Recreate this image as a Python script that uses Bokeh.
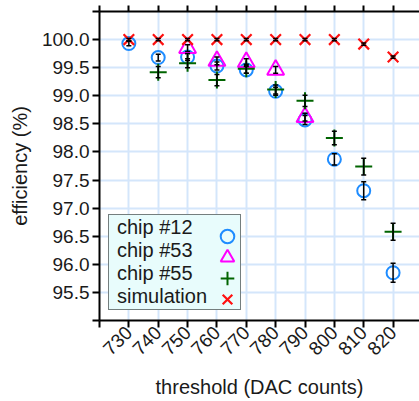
from bokeh.plotting import figure
from bokeh.models import (ColumnDataSource, Range1d, FixedTicker, LinearAxis, Whisker, TeeHead,
                          Legend, LegendItem, PrintfTickFormatter, CustomJSTickFormatter)
from bokeh.embed import file_html
from bokeh.resources import INLINE
import numpy as np

# ---------------- data ----------------
thresholds = [730, 740, 750, 760, 770, 780, 790, 800, 810, 820]

chip12_x = [730, 740, 750, 760, 770, 780, 790, 800, 810, 820]
chip12_y = [99.93, 99.68, 99.69, 99.53, 99.46, 99.08, 98.57, 97.87, 97.31, 95.85]
chip12_err = [0.04, 0.06, 0.06, 0.07, 0.06, 0.07, 0.08, 0.10, 0.16, 0.17]

chip53_x = [750, 760, 770, 780, 790]
chip53_y = [99.85, 99.62, 99.60, 99.46, 98.62]
chip53_err = [0.06, 0.07, 0.06, 0.06, 0.07]

chip55_x = [740, 750, 760, 770, 780, 790, 800, 810, 820]
chip55_y = [99.42, 99.58, 99.28, 99.48, 99.11, 98.91, 98.25, 97.74, 96.58]
chip55_err = [0.10, 0.08, 0.10, 0.08, 0.08, 0.10, 0.12, 0.15, 0.15]

sim_x = [730, 740, 750, 760, 770, 780, 790, 800, 810, 820]
sim_y = [100.0, 100.0, 100.0, 100.0, 100.0, 100.0, 100.0, 100.0, 99.92, 99.69]
sim_err = [0.02, 0.02, 0.02, 0.02, 0.02, 0.02, 0.02, 0.02, 0.02, 0.02]

x_ticks = [720, 730, 740, 750, 760, 770, 780, 790, 800, 810, 820, 830]
y_ticks = [95.0, 95.5, 96.0, 96.5, 97.0, 97.5, 98.0, 98.5, 99.0, 99.5, 100.0, 100.5]
series_names = ["chip #12", "chip #53", "chip #55", "simulation"]

x_title = "threshold (DAC counts)"
y_title = "efficiency (%)"

# ---------------- style ----------------
FONT = "Liberation Sans"
TXT = "#1a1a1a"
GRID = "#d4e6fb"
C12 = "#1e8cff"
C53 = "#ff00ff"
C55 = "#006400"
CSIM = "#ff1010"

p = figure(width=419, height=401,
           x_range=Range1d(720, 829), y_range=Range1d(95.0, 100.5),
           output_backend="svg", toolbar_location=None,
           min_border_left=99, min_border_right=0, min_border_top=11, min_border_bottom=78)
p.outline_line_color = None
p.background_fill_color = "white"
p.border_fill_color = "white"

# axes
xa = p.xaxis[0]
xa.ticker = FixedTicker(ticks=x_ticks)
xa.major_label_overrides = {720: ""}
xa.major_label_orientation = np.pi / 4
ya = p.yaxis[0]
ya.ticker = FixedTicker(ticks=y_ticks)
ya.formatter = PrintfTickFormatter(format="%.1f")
ya.major_label_overrides = {95: "", 100.5: ""}

for ax in (xa, ya):
    ax.axis_line_width = 2
    ax.axis_line_color = "black"
    ax.major_tick_line_width = 2
    ax.major_tick_line_color = "black"
    ax.major_tick_in = 0
    ax.major_tick_out = 7
    ax.minor_tick_line_color = None
    ax.major_label_text_font = FONT
    ax.major_label_text_font_size = "19px"
    ax.major_label_text_color = TXT
    ax.axis_label_text_font = FONT
    ax.axis_label_text_font_size = "20px"
    ax.axis_label_text_font_style = "normal"
    ax.axis_label_text_color = TXT

xa.axis_label = x_title
ya.axis_label = y_title
xa.major_label_standoff = 2
xa.axis_label_standoff = 12
ya.major_label_standoff = 3
ya.axis_label_standoff = 8

top = LinearAxis(ticker=FixedTicker(ticks=x_ticks),
                 formatter=CustomJSTickFormatter(code="return ''"))
top.axis_line_width = 2
top.axis_line_color = "black"
top.major_tick_line_width = 2
top.major_tick_line_color = "black"
top.major_tick_in = 0
top.major_tick_out = 6
top.minor_tick_line_color = None
top.major_label_standoff = 0
top.major_label_text_font_size = "1px"
p.add_layout(top, "above")

# grid
p.xgrid.ticker = FixedTicker(ticks=x_ticks)
p.ygrid.ticker = FixedTicker(ticks=y_ticks)
for g in (p.xgrid[0], p.ygrid[0]):
    g.grid_line_color = GRID
    g.grid_line_width = 2

# ---------------- glyphs ----------------
def src(xs, ys, errs):
    ys = np.array(ys)
    es = np.array(errs)
    return ColumnDataSource(dict(x=xs, y=ys, upper=ys + es, lower=ys - es))

s12 = src(chip12_x, chip12_y, chip12_err)
s53 = src(chip53_x, chip53_y, chip53_err)
s55 = src(chip55_x, chip55_y, chip55_err)
ssim = src(sim_x, sim_y, sim_err)

r12 = p.scatter("x", "y", source=s12, marker="circle", size=13, fill_color=None,
                line_color=C12, line_width=2)
r53 = p.scatter("x", "y", source=s53, marker="triangle", size=17, fill_color=None,
                line_color=C53, line_width=2)
r55 = p.scatter("x", "y", source=s55, marker="cross", size=17,
                line_color=C55, line_width=2)
rsim = p.scatter("x", "y", source=ssim, marker="x", size=15,
                 line_color=CSIM, line_width=2.2)

for s in (s12, s53, s55, ssim):
    w = Whisker(source=s, base="x", upper="upper", lower="lower",
                line_color="black", line_width=1.5, level="overlay",
                upper_head=TeeHead(size=5, line_color="black", line_width=1.5),
                lower_head=TeeHead(size=5, line_color="black", line_width=1.5))
    p.add_layout(w)

# ---------------- legend (text box, symbols on the right) ----------------
ROW = 21
LEG_X, LEG_Y = 9, 10
PAD = 1
text_leg = Legend(items=[LegendItem(label=n, renderers=[]) for n in series_names],
                  location=(LEG_X, LEG_Y), padding=PAD, margin=0, spacing=0,
                  glyph_width=7, glyph_height=ROW, label_height=ROW, label_width=122,
                  label_standoff=0, label_text_font=FONT, label_text_font_size="20px",
                  label_text_color=TXT, label_text_line_height=1.0,
                  background_fill_color="#e8fcfc", background_fill_alpha=1.0,
                  border_line_color="black", border_line_width=1.5)
p.add_layout(text_leg)

GBOX = 34
n = len(series_names)
for i, (name, r) in enumerate(zip(series_names, [r12, r53, r55, rsim])):
    yc = LEG_Y + PAD + (n - 1 - i) * ROW + ROW / 2
    lg = Legend(items=[LegendItem(label="", renderers=[r])],
                location=(128 - GBOX / 2, yc - GBOX / 2), padding=0, margin=0, spacing=0,
                glyph_width=GBOX, glyph_height=GBOX, label_width=0, label_height=0,
                label_standoff=0, label_text_font_size="1px",
                background_fill_alpha=0, border_line_color=None)
    p.add_layout(lg)

open("out.html", "w").write(file_html(p, INLINE))
